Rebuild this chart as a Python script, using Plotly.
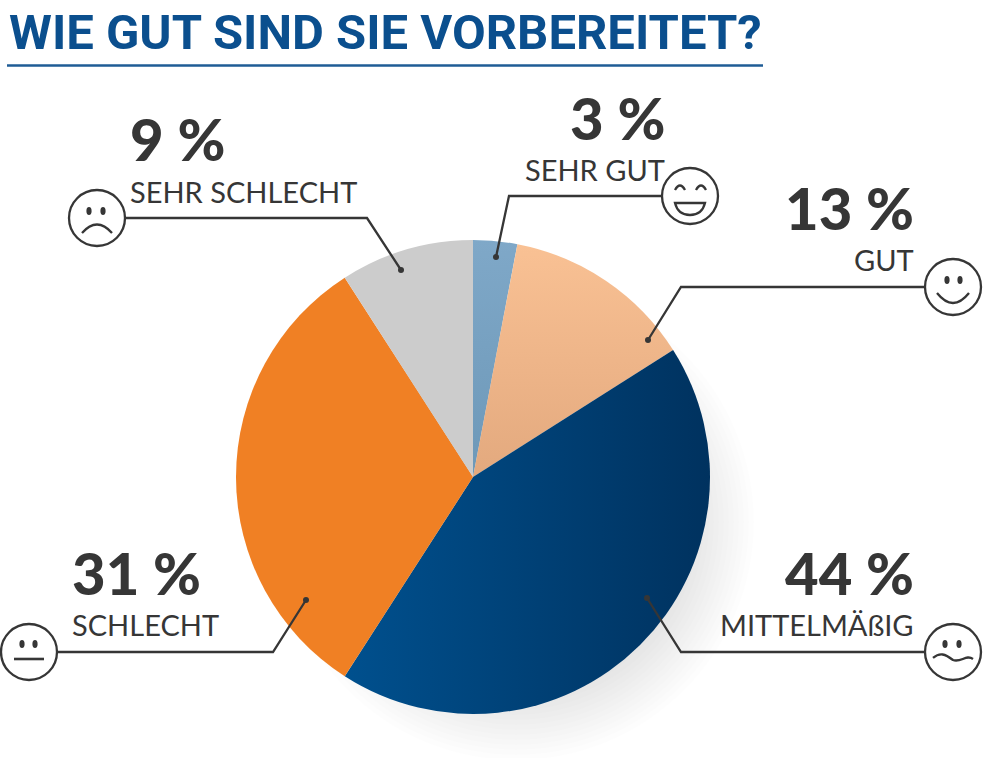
import plotly.graph_objects as go

W, H = 989, 758

categories = ["SEHR GUT", "GUT", "MITTELMÄßIG", "SCHLECHT", "SEHR SCHLECHT"]
printed_percent = ["3 %", "13 %", "44 %", "31 %", "9 %"]
slice_shares = [3, 13, 43.1, 31.8, 9.1]
slice_colors = ["#7aa3c4", "#f2b88c", "#00457c", "#f08024", "#cccccc"]

INK = "#363636"
NAVY = "#0b4f8e"


def px(x):
    return x / W


def py(y):
    return 1 - y / H


def pth(cmds):
    out = []
    for c in cmds:
        if isinstance(c, str):
            out.append(c)
        else:
            out.append(f"{px(c[0]):.5f},{py(c[1]):.5f}")
    return " ".join(out)


shapes = []


def line_path(cmds, width=2.3, color=INK, fill=None):
    shapes.append(dict(type="path", xref="paper", yref="paper", path=pth(cmds),
                       line=dict(color=color, width=width),
                       fillcolor=fill if fill else "rgba(0,0,0,0)", layer="above"))


def oval(cx, cy, rx, ry, line_width=2.3, fill=None, layer="above", opacity=1, line_color=INK):
    shapes.append(dict(type="circle", xref="paper", yref="paper",
                       x0=px(cx - rx), x1=px(cx + rx), y0=py(cy + ry), y1=py(cy - ry),
                       line=dict(color=line_color, width=line_width),
                       fillcolor=fill if fill else "rgba(0,0,0,0)", layer=layer, opacity=opacity))


# soft shadow under the pie, offset to the lower right
for r in [238, 233, 228, 223, 218, 213, 208, 203, 198, 193, 188, 183, 178, 173]:
    oval(516, 522, r, r, line_width=0, fill="#000000", layer="below", opacity=0.008)

# title rule
line_path(["M", (7, 65.5), "L", (763, 65.5)], width=2.6, color="#1f5c96")

# leader lines and dots
leaders = [
    [(662, 196), (509, 196), (496, 257)],
    [(925, 287), (681, 287), (648, 340)],
    [(925, 652), (681, 652), (647, 598)],
    [(57, 652), (273, 652), (306, 600)],
    [(125, 218), (367, 218), (401, 270)],
]
for a, b, c in leaders:
    line_path(["M", a, "L", b, "L", c])
    oval(c[0], c[1], 3, 3, line_width=0, fill=INK)

# faces
for cx, cy in [(690, 196), (953, 287), (953, 652), (29, 652), (97, 218)]:
    oval(cx, cy, 28, 28, fill="#ffffff")


def eyes(x1, x2, y):
    oval(x1, y, 2.6, 4, line_width=0, fill=INK)
    oval(x2, y, 2.6, 4, line_width=0, fill=INK)


# sehr gut
line_path(["M", (675, 190), "Q", (680, 181), (685, 190)])
line_path(["M", (696, 190), "Q", (701, 181), (706, 190)])
line_path(["M", (675, 203), "L", (705, 203), "Q", (702, 215), (690, 215), "Q", (678, 215), (675, 203), "Z"])
# gut
eyes(947, 960, 280)
line_path(["M", (937, 293), "Q", (953, 313), (969, 293)])
# mittelmäßig
eyes(945, 959, 644)
line_path(["M", (933, 658), "C", (940, 652), (945, 654), (953, 660), "C", (961, 663), (966, 654), (973, 659)])
# schlecht
eyes(22, 35, 644)
line_path(["M", (14, 659), "L", (44, 659)], width=2.6)
# sehr schlecht
eyes(89, 103, 211)
line_path(["M", (82, 233), "Q", (97, 216), (112, 233)])

# texts: (anchor x, percent y centre, label y centre, x anchor)
placements = [
    (667, 118, 170, "right"),
    (916, 207, 259, "right"),
    (916, 572, 624, "right"),
    (70, 572, 624, "left"),
    (128, 139, 191, "left"),
]
annotations = [dict(text="WIE GUT SIND SIE VORBEREITET?", x=px(7), y=py(32), xref="paper", yref="paper",
                    xanchor="left", yanchor="middle", showarrow=False,
                    font=dict(family="Roboto", size=49, color=NAVY, weight="bold"))]
for pct, cat, (x, y1, y2, anchor) in zip(printed_percent, categories, placements):
    annotations.append(dict(text=pct, x=px(x), y=py(y1), xref="paper", yref="paper",
                            xanchor=anchor, yanchor="middle", showarrow=False,
                            font=dict(family="Lato", size=58, color=INK, weight=900)))
    annotations.append(dict(text=cat, x=px(x), y=py(y2), xref="paper", yref="paper",
                            xanchor=anchor, yanchor="middle", showarrow=False,
                            font=dict(family="Lato", size=29, color=INK)))

fig = go.Figure(go.Pie(
    labels=categories,
    values=slice_shares,
    sort=False,
    direction="clockwise",
    rotation=0,
    textinfo="none",
    marker=dict(colors=slice_colors, line=dict(width=0)),
    domain=dict(x=[px(236), px(710)], y=[py(714), py(240)]),
    showlegend=False,
))
fig.update_layout(width=W, height=H, margin=dict(l=0, r=0, t=0, b=0),
                  paper_bgcolor="#ffffff", plot_bgcolor="#ffffff",
                  shapes=shapes, annotations=annotations)

# page margin removed; tonal gradients inside three slices
post = """
document.body.style.margin = '0';
var gd = document.getElementById('{plot_id}');
var svg = gd.querySelector('svg.main-svg');
var NS = 'http://www.w3.org/2000/svg';
var defs = document.createElementNS(NS, 'defs');
function grad(id, x2, y2, a, b) {
  var g = document.createElementNS(NS, 'linearGradient');
  g.setAttribute('id', id); g.setAttribute('x1', 0); g.setAttribute('y1', 0);
  g.setAttribute('x2', x2); g.setAttribute('y2', y2);
  [[0, a], [1, b]].forEach(function (s) {
    var st = document.createElementNS(NS, 'stop');
    st.setAttribute('offset', s[0]); st.setAttribute('stop-color', s[1]); g.appendChild(st);
  });
  defs.appendChild(g);
}
grad('gA', 0, 1, '#7fa8c8', '#6d98b8');
grad('gB', 0, 1, '#f9c194', '#e3a97e');
grad('gC', 1, 0, '#00508e', '#00325f');
svg.insertBefore(defs, svg.firstChild);
var sl = gd.querySelectorAll('.slice path.surface');
['gA', 'gB', 'gC'].forEach(function (id, i) { sl[i].style.fill = 'url(#' + id + ')'; });
"""
fig.write_html("out.html", post_script=post, config=dict(displayModeBar=False))
